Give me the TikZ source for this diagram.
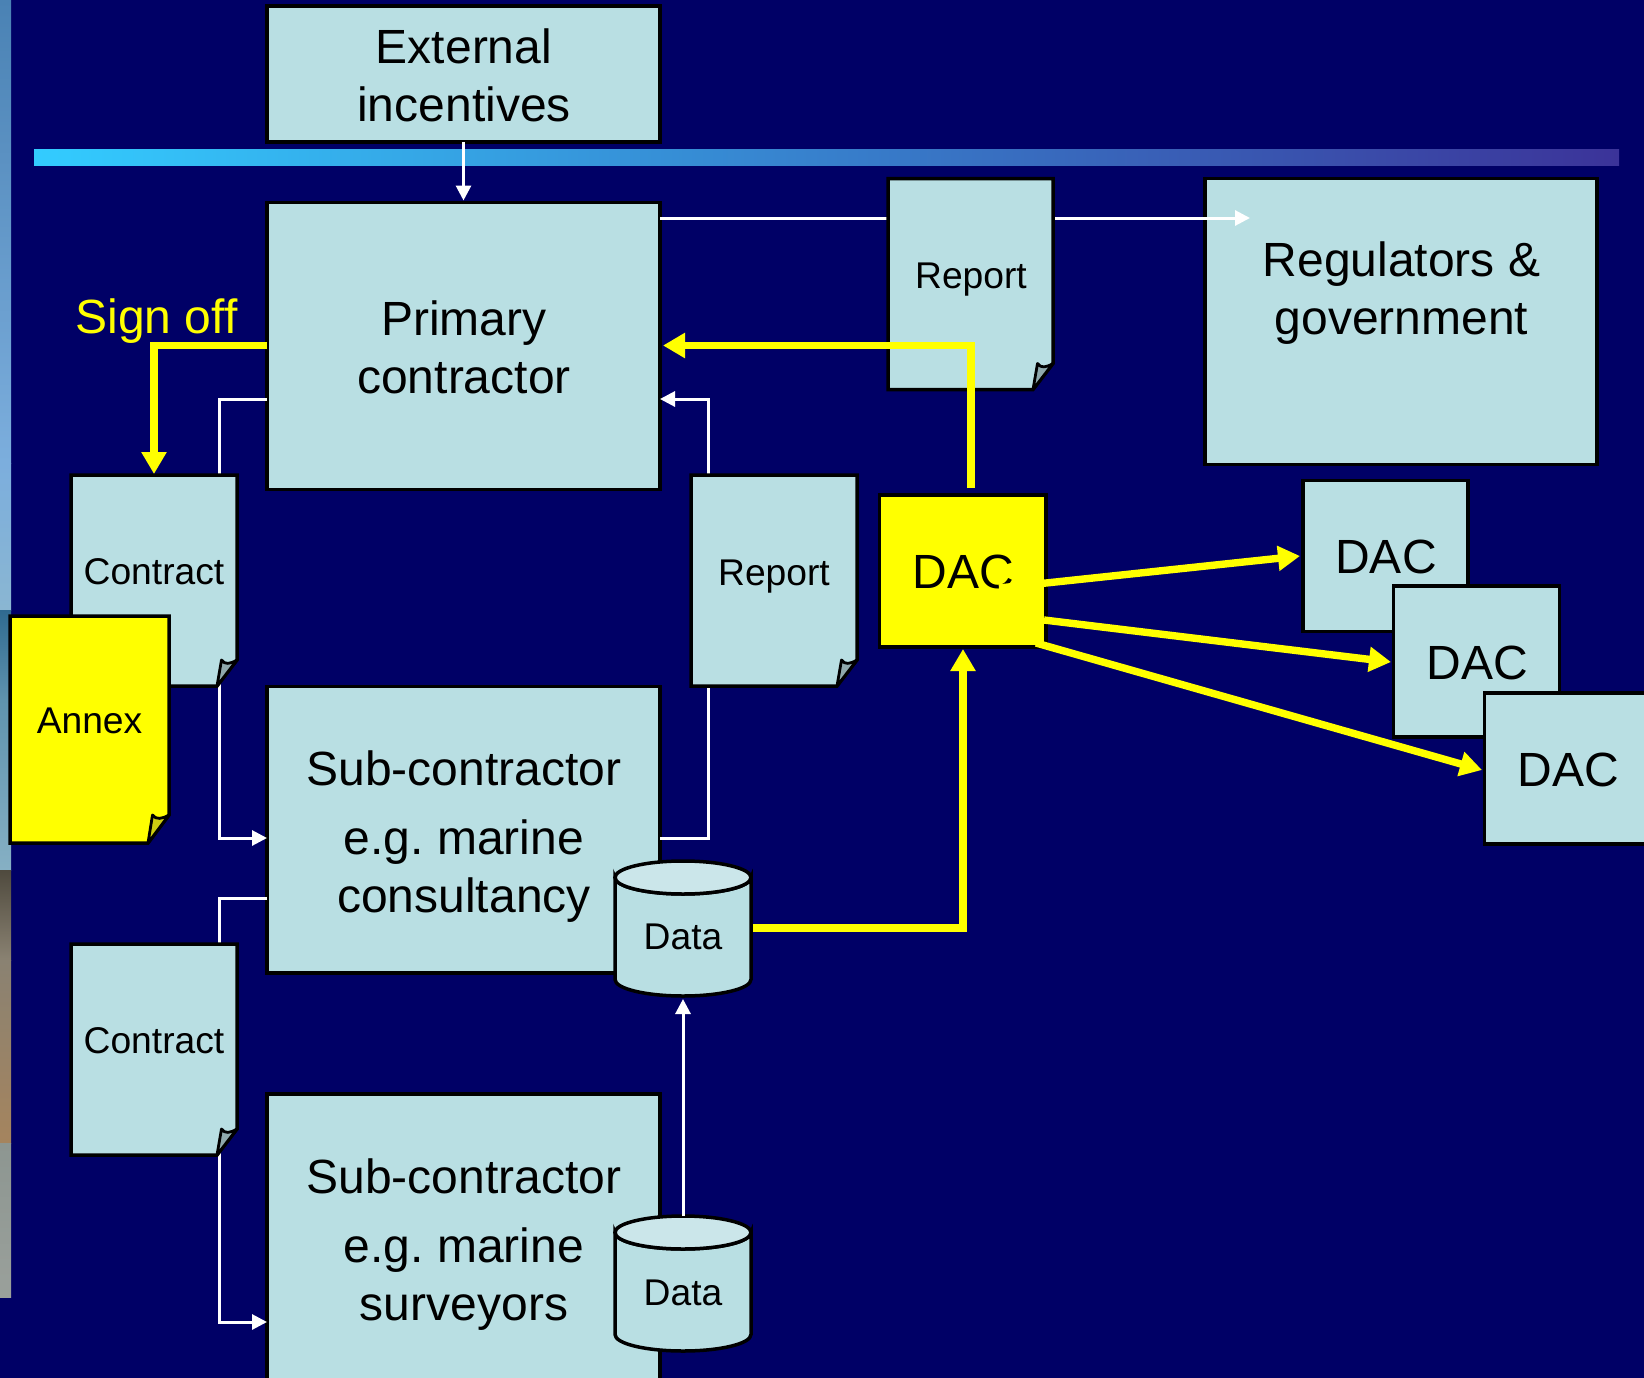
\documentclass[tikz,border=0pt]{standalone}
\usepackage{fontspec}
\setmainfont{Liberation Sans}
\usetikzlibrary{arrows.meta}
\frenchspacing
\definecolor{navy}{HTML}{000066}
\definecolor{pale}{HTML}{B9DFE3}
\definecolor{paletop}{HTML}{CBE6EA}
\definecolor{foldpale}{HTML}{8FA9AD}
\definecolor{foldyel}{HTML}{CCCC11}
\definecolor{puryel}{HTML}{FFFF00}
\definecolor{skyA}{HTML}{4A82B4}
\definecolor{skyB}{HTML}{7CAEDD}
\definecolor{skyC}{HTML}{8AB6D2}
\definecolor{seaA}{HTML}{2F6A90}
\definecolor{seaB}{HTML}{5F93AE}
\definecolor{seaC}{HTML}{86B0C4}
\definecolor{rockA}{HTML}{4F4A3E}
\definecolor{rockB}{HTML}{8A8272}
\definecolor{rockC}{HTML}{A5845E}
\definecolor{sandA}{HTML}{8D9691}
\definecolor{sandB}{HTML}{9AA09B}
\definecolor{barL}{HTML}{33CCFF}
\definecolor{barR}{HTML}{3B3399}
\tikzset{
  x=1pt,y=-1pt,
  boxshape/.style={draw=black,line width=3.5pt,fill=pale,inner sep=0pt,outer sep=0pt,anchor=north west},
  ghost/.style={inner sep=0pt,outer sep=0pt,anchor=north west},
  outline/.style={draw=black,line width=3.5pt,line join=miter},
  biglabel/.style={font=\fontsize{48}{58}\selectfont,align=center,anchor=base,inner sep=0pt,text=black},
  smalllabel/.style={font=\fontsize{37.2}{44}\selectfont,align=center,anchor=base,inner sep=0pt,text=black},
  whitearrow/.style={draw=white,line width=3pt,-{Triangle[length=15pt,width=15pt]}},
  yellowarrow/.style={draw=puryel,line width=7.4pt,-{Triangle[length=22pt,width=24pt]}},
}
% name, x0, y0, width, height, fill, foldfill, fold w, fold h
\newcommand{\docbox}[9]{%
  \node[ghost,minimum width=#4pt,minimum height=#5pt] (#1) at (#2,#3) {};
  \path[outline,fill=#6] (#1.north west) -- (#1.north east)
     -- ([yshift=#9pt]#1.south east) -- ([xshift=-#8pt]#1.south east)
     -- (#1.south west) -- cycle;
  \path[outline,line width=2.8pt,fill=#7,line join=round] ([xshift=-#8pt]#1.south east)
     -- ([xshift=-#8pt+4.5pt,yshift=#9pt]#1.south east)
     .. controls ([xshift=-#8pt+8pt,yshift=#9pt-5pt]#1.south east)
     and ([xshift=-7pt,yshift=#9pt-4pt]#1.south east) .. ([yshift=#9pt]#1.south east) -- cycle;
}
\newcommand{\datadrum}[3]{%
  \node[ghost,minimum width=136pt,minimum height=135pt] (#1) at (#2,#3) {};
  \path[outline,fill=pale] ([yshift=-16.5pt]#1.north west) -- ([yshift=16.5pt]#1.south west)
     arc[x radius=68pt,y radius=16.5pt,start angle=180,end angle=360]
     -- ([yshift=-16.5pt]#1.north east)
     arc[x radius=68pt,y radius=16.5pt,start angle=0,end angle=-180] -- cycle;
  \path[outline,fill=paletop] ([yshift=-16.5pt]#1.north west)
     arc[x radius=68pt,y radius=16.5pt,start angle=180,end angle=-180] -- cycle;
}
\begin{document}
\begin{tikzpicture}
\clip (0,0) rectangle (1644,1378);
\fill[navy] (0,0) rectangle (1644,1378);
% photo strip at the left edge
\shade[top color=skyA,bottom color=skyB] (0,0) rectangle (11,463);
\shade[top color=skyB,bottom color=skyC] (0,463) rectangle (11,610);
\shade[top color=seaA,bottom color=seaB] (0,610) rectangle (11,700);
\shade[top color=seaB,bottom color=seaC] (0,700) rectangle (11,870);
\shade[top color=rockA,bottom color=rockB] (0,870) rectangle (11,960);
\shade[top color=rockB,bottom color=rockC] (0,960) rectangle (11,1143);
\shade[top color=sandA,bottom color=sandB] (0,1143) rectangle (11,1297);
% title rule
\shade[left color=barL,right color=barR] (34,150) rectangle (1619,166);
% plain boxes
\node[boxshape,minimum width=393pt,minimum height=136pt] (ext) at (267,6) {};
\node[boxshape,minimum width=393pt,minimum height=287pt] (pri) at (267,202.5) {};
\node[boxshape,minimum width=392pt,minimum height=286pt] (reg) at (1205,178.5) {};
\node[boxshape,minimum width=393pt,minimum height=286.5pt] (subA) at (267,686.5) {};
\node[boxshape,minimum width=393pt,minimum height=320pt] (subB) at (267,1094) {};
% connector ends
\coordinate (regIn) at (1250,218);
\coordinate (priOutR) at (660,218);
\coordinate (priC) at (267,399);
\coordinate (cA) at (219,399);
\coordinate (cB) at (219,838);
\coordinate (subAIn) at (267,838);
\coordinate (subAOut) at (267,898);
\coordinate (cC) at (219,898);
\coordinate (cD) at (219,1322);
\coordinate (subBIn) at (267,1322);
\coordinate (subARep) at (660,838);
\coordinate (rA) at (708,838);
\coordinate (rB) at (708,399);
\coordinate (priRep) at (660,399);
% white connectors
\draw[whitearrow,shorten >=2pt] (ext.south) -- (pri.north);
\draw[whitearrow] (priOutR) -- (regIn);
\draw[whitearrow] (priC) -- (cA) -- (cB) -- (subAIn);
\draw[whitearrow] (subAOut) -- (cC) -- (cD) -- (subBIn);
\draw[whitearrow] (subARep) -- (rA) -- (rB) -- (priRep);
% documents
\docbox{conA}{71}{475}{166}{211}{pale}{foldpale}{20}{26}
\docbox{annex}{10}{616}{159}{227}{puryel}{foldyel}{21}{28}
\docbox{conB}{71}{944}{166}{211}{pale}{foldpale}{20}{26}
\docbox{repA}{888}{178.5}{165}{211}{pale}{foldpale}{20}{26}
\docbox{repB}{691}{475}{166}{211}{pale}{foldpale}{20}{26}
% drums
\datadrum{dataA}{615}{861}
\datadrum{dataB}{615}{1216}
\draw[whitearrow,shorten >=3pt] (dataB.north) -- (dataA.south);
% DAC boxes
\node[boxshape,fill=puryel,minimum width=166.5pt,minimum height=152pt] (dacY) at (879.5,495) {};
\node[boxshape,minimum width=165pt,minimum height=151pt] (dacA) at (1303,480.5) {};
\node[boxshape,minimum width=166pt,minimum height=151pt] (dacB) at (1393.5,586) {};
\node[boxshape,minimum width=166pt,minimum height=151pt] (dacC) at (1484.5,693) {};
% labels
\node[biglabel] (tExt) at (464,63.5) {External};
\node[biglabel] (tExtB) at (464,121.5) {incentives};
\node[biglabel] (tPri) at (464,335) {Primary};
\node[biglabel] (tPriB) at (464,393) {contractor};
\node[biglabel] (tReg) at (1401.5,276) {Regulators \&};
\node[biglabel] (tRegB) at (1401.5,334) {government};
\node[biglabel] (tSubA) at (464,785) {Sub-contractor};
\node[biglabel] (tSubAb) at (464,854) {e.g. marine};
\node[biglabel] (tSubAc) at (464,912) {consultancy};
\node[biglabel] (tSubB) at (464,1193) {Sub-contractor};
\node[biglabel] (tSubBb) at (464,1262) {e.g. marine};
\node[biglabel] (tSubBc) at (464,1320) {surveyors};
\node[biglabel,text=puryel] (tSign) at (156.5,333) {Sign off};
\node[biglabel] (tDacY) at (963.5,588) {DAC};
\node[biglabel] (tDacA) at (1386,573) {DAC};
\node[biglabel] (tDacB) at (1477,679) {DAC};
\node[biglabel] (tDacC) at (1568,786) {DAC};
\node[smalllabel] (tConA) at (154,584) {Contract};
\node[smalllabel] (tConB) at (154,1053) {Contract};
\node[smalllabel] (tAnnex) at (89.5,733) {Annex};
\node[smalllabel] (tRepA) at (971,288) {Report};
\node[smalllabel] (tRepB) at (774,585.5) {Report};
\node[smalllabel] (tDataA) at (683,949) {Data};
\node[smalllabel] (tDataB) at (683,1305) {Data};
% yellow connectors
\coordinate (dacUp) at (971,488);
\coordinate (yA) at (971,345.5);
\coordinate (priIn) at (663,345.5);
\coordinate (priSign) at (267,345.5);
\coordinate (yB) at (154,345.5);
\coordinate (conIn) at (154,474);
\coordinate (drumOut) at (753,928);
\coordinate (yC) at (963,928);
\coordinate (dacIn) at (963,649);
\coordinate (dacOutA) at (999,588);
\coordinate (dacOutB) at (1044,620);
\coordinate (dacOutC) at (1036,643);
\coordinate (dacAIn) at (1300,556);
\coordinate (dacBIn) at (1391,662);
\coordinate (dacCIn) at (1482,770);
\draw[yellowarrow] (dacUp) -- (yA) -- (priIn);
\draw[yellowarrow] (priSign) -- (yB) -- (conIn);
\draw[yellowarrow] (drumOut) -- (yC) -- (dacIn);
\draw[yellowarrow] (dacOutA) -- (dacAIn);
\draw[yellowarrow] (dacOutB) -- (dacBIn);
\draw[yellowarrow] (dacOutC) -- (dacCIn);
\end{tikzpicture}
\end{document}
